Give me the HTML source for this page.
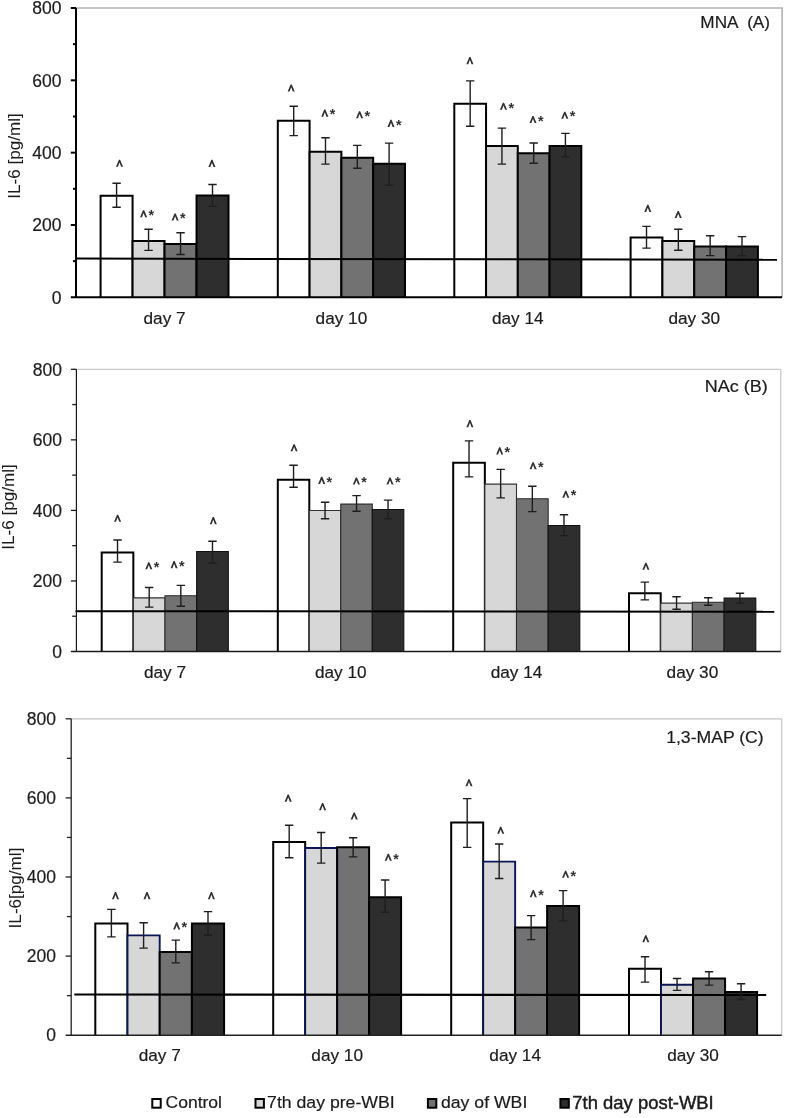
<!DOCTYPE html>
<html><head><meta charset="utf-8"><style>
html,body{margin:0;padding:0;background:#fff;}
body{width:786px;height:1118px;overflow:hidden;}
svg{display:block;font-family:"Liberation Sans", sans-serif;will-change:transform;}
</style></head><body>
<svg width="786" height="1118" viewBox="0 0 786 1118">
<rect width="786" height="1118" fill="#fff"/>
<path d="M76 8 H782.1 V297.3" fill="none" stroke="#b3b3b3" stroke-width="1.6"/>
<path d="M100.6 297.3 V195.7 H132.57 V297.3" fill="#ffffff" stroke="#000" stroke-width="2.0"/>
<path d="M132.57 297.3 V240.9 H164.55 V297.3" fill="#d7d7d7" stroke="#000" stroke-width="2.0"/>
<path d="M164.55 297.3 V243.9 H196.53 V297.3" fill="#727272" stroke="#000" stroke-width="2.0"/>
<path d="M196.53 297.3 V195.6 H228.5 V297.3" fill="#2e2e2e" stroke="#000" stroke-width="2.0"/>
<path d="M277.8 297.3 V120.7 H309.6 V297.3" fill="#ffffff" stroke="#000" stroke-width="2.0"/>
<path d="M309.6 297.3 V151.7 H341.4 V297.3" fill="#d7d7d7" stroke="#000" stroke-width="2.0"/>
<path d="M341.4 297.3 V157.7 H373.2 V297.3" fill="#727272" stroke="#000" stroke-width="2.0"/>
<path d="M373.2 297.3 V163.8 H405 V297.3" fill="#2e2e2e" stroke="#000" stroke-width="2.0"/>
<path d="M454.3 297.3 V103.8 H486.05 V297.3" fill="#ffffff" stroke="#000" stroke-width="2.0"/>
<path d="M486.05 297.3 V146.1 H517.8 V297.3" fill="#d7d7d7" stroke="#000" stroke-width="2.0"/>
<path d="M517.8 297.3 V153.2 H549.55 V297.3" fill="#727272" stroke="#000" stroke-width="2.0"/>
<path d="M549.55 297.3 V146.1 H581.3 V297.3" fill="#2e2e2e" stroke="#000" stroke-width="2.0"/>
<path d="M630.6 297.3 V237.6 H662.42 V297.3" fill="#ffffff" stroke="#000" stroke-width="2.0"/>
<path d="M662.42 297.3 V241.1 H694.25 V297.3" fill="#d7d7d7" stroke="#000" stroke-width="2.0"/>
<path d="M694.25 297.3 V246.5 H726.08 V297.3" fill="#727272" stroke="#000" stroke-width="2.0"/>
<path d="M726.08 297.3 V246.5 H757.9 V297.3" fill="#2e2e2e" stroke="#000" stroke-width="2.0"/>
<line x1="76" y1="258.6" x2="777" y2="259.7" stroke="#000" stroke-width="2.0"/>
<path d="M116.59 183.2 V207.3 M112.39 183.2 H120.79 M112.39 207.3 H120.79" stroke="#1e1e1e" stroke-width="1.4" fill="none"/>
<polygon points="118.9,159.65 120.1,159.65 123.05,166.75 121.15,166.75 119.5,162.45 117.85,166.75 115.95,166.75" fill="#303030"/>
<path d="M148.56 229.3 V250.4 M144.36 229.3 H152.76 M144.36 250.4 H152.76" stroke="#1e1e1e" stroke-width="1.4" fill="none"/>
<polygon points="143,210.25 144.2,210.25 147.15,217.35 145.25,217.35 143.6,213.05 141.95,217.35 140.05,217.35" fill="#303030"/>
<text x="151.3" y="220.07" font-size="14.3" font-weight="bold" text-anchor="middle" fill="#303030">*</text>
<path d="M180.54 232.7 V254.5 M176.34 232.7 H184.74 M176.34 254.5 H184.74" stroke="#1e1e1e" stroke-width="1.4" fill="none"/>
<polygon points="174.5,213.45 175.7,213.45 178.65,220.55 176.75,220.55 175.1,216.25 173.45,220.55 171.55,220.55" fill="#303030"/>
<text x="182.8" y="223.27" font-size="14.3" font-weight="bold" text-anchor="middle" fill="#303030">*</text>
<path d="M212.51 184.5 V206.4 M208.31 184.5 H216.71 M208.31 206.4 H216.71" stroke="#1e1e1e" stroke-width="1.4" fill="none"/>
<polygon points="211.3,159.85 212.5,159.85 215.45,166.95 213.55,166.95 211.9,162.65 210.25,166.95 208.35,166.95" fill="#303030"/>
<path d="M293.7 106.2 V135.6 M289.5 106.2 H297.9 M289.5 135.6 H297.9" stroke="#1e1e1e" stroke-width="1.4" fill="none"/>
<polygon points="290.6,84.45 291.8,84.45 294.75,91.55 292.85,91.55 291.2,87.25 289.55,91.55 287.65,91.55" fill="#303030"/>
<path d="M325.5 137.8 V164.1 M321.3 137.8 H329.7 M321.3 164.1 H329.7" stroke="#1e1e1e" stroke-width="1.4" fill="none"/>
<polygon points="324.2,109.55 325.4,109.55 328.35,116.65 326.45,116.65 324.8,112.35 323.15,116.65 321.25,116.65" fill="#303030"/>
<text x="332.5" y="119.37" font-size="14.3" font-weight="bold" text-anchor="middle" fill="#303030">*</text>
<path d="M357.3 145.4 V168.2 M353.1 145.4 H361.5 M353.1 168.2 H361.5" stroke="#1e1e1e" stroke-width="1.4" fill="none"/>
<polygon points="359,111.25 360.2,111.25 363.15,118.35 361.25,118.35 359.6,114.05 357.95,118.35 356.05,118.35" fill="#303030"/>
<text x="367.3" y="121.07" font-size="14.3" font-weight="bold" text-anchor="middle" fill="#303030">*</text>
<path d="M389.1 143.1 V185.1 M384.9 143.1 H393.3 M384.9 185.1 H393.3" stroke="#1e1e1e" stroke-width="1.4" fill="none"/>
<polygon points="390.4,119.85 391.6,119.85 394.55,126.95 392.65,126.95 391,122.65 389.35,126.95 387.45,126.95" fill="#303030"/>
<text x="398.7" y="129.67" font-size="14.3" font-weight="bold" text-anchor="middle" fill="#303030">*</text>
<path d="M470.18 80.9 V126.3 M465.98 80.9 H474.38 M465.98 126.3 H474.38" stroke="#1e1e1e" stroke-width="1.4" fill="none"/>
<polygon points="469.3,57.05 470.5,57.05 473.45,64.15 471.55,64.15 469.9,59.85 468.25,64.15 466.35,64.15" fill="#303030"/>
<path d="M501.92 128.1 V164.1 M497.72 128.1 H506.12 M497.72 164.1 H506.12" stroke="#1e1e1e" stroke-width="1.4" fill="none"/>
<polygon points="502.9,102.75 504.1,102.75 507.05,109.85 505.15,109.85 503.5,105.55 501.85,109.85 499.95,109.85" fill="#303030"/>
<text x="511.2" y="112.57" font-size="14.3" font-weight="bold" text-anchor="middle" fill="#303030">*</text>
<path d="M533.67 143 V163.2 M529.47 143 H537.88 M529.47 163.2 H537.88" stroke="#1e1e1e" stroke-width="1.4" fill="none"/>
<polygon points="532.4,115.95 533.6,115.95 536.55,123.05 534.65,123.05 533,118.75 531.35,123.05 529.45,123.05" fill="#303030"/>
<text x="540.7" y="125.77" font-size="14.3" font-weight="bold" text-anchor="middle" fill="#303030">*</text>
<path d="M565.42 133.4 V156.9 M561.22 133.4 H569.62 M561.22 156.9 H569.62" stroke="#1e1e1e" stroke-width="1.4" fill="none"/>
<polygon points="564.2,111.65 565.4,111.65 568.35,118.75 566.45,118.75 564.8,114.45 563.15,118.75 561.25,118.75" fill="#303030"/>
<text x="572.5" y="121.47" font-size="14.3" font-weight="bold" text-anchor="middle" fill="#303030">*</text>
<path d="M646.51 226.4 V248.1 M642.31 226.4 H650.71 M642.31 248.1 H650.71" stroke="#1e1e1e" stroke-width="1.4" fill="none"/>
<polygon points="647.2,204.85 648.4,204.85 651.35,211.95 649.45,211.95 647.8,207.65 646.15,211.95 644.25,211.95" fill="#303030"/>
<path d="M678.34 229.3 V250.3 M674.14 229.3 H682.54 M674.14 250.3 H682.54" stroke="#1e1e1e" stroke-width="1.4" fill="none"/>
<polygon points="677.6,210.95 678.8,210.95 681.75,218.05 679.85,218.05 678.2,213.75 676.55,218.05 674.65,218.05" fill="#303030"/>
<path d="M710.16 235.7 V255.6 M705.96 235.7 H714.36 M705.96 255.6 H714.36" stroke="#1e1e1e" stroke-width="1.4" fill="none"/>
<path d="M741.99 236.6 V255.6 M737.79 236.6 H746.19 M737.79 255.6 H746.19" stroke="#1e1e1e" stroke-width="1.4" fill="none"/>
<line x1="76" y1="8" x2="76" y2="297.3" stroke="#000" stroke-width="2.0"/>
<line x1="70.8" y1="297.3" x2="782" y2="297.3" stroke="#000" stroke-width="2.0"/>
<line x1="70.8" y1="8" x2="76" y2="8" stroke="#000" stroke-width="2.0"/>
<line x1="73" y1="44.16" x2="76" y2="44.16" stroke="#000" stroke-width="2.0"/>
<line x1="70.8" y1="80.33" x2="76" y2="80.33" stroke="#000" stroke-width="2.0"/>
<line x1="73" y1="116.49" x2="76" y2="116.49" stroke="#000" stroke-width="2.0"/>
<line x1="70.8" y1="152.65" x2="76" y2="152.65" stroke="#000" stroke-width="2.0"/>
<line x1="73" y1="188.81" x2="76" y2="188.81" stroke="#000" stroke-width="2.0"/>
<line x1="70.8" y1="224.98" x2="76" y2="224.98" stroke="#000" stroke-width="2.0"/>
<line x1="73" y1="261.14" x2="76" y2="261.14" stroke="#000" stroke-width="2.0"/>
<text x="61.5" y="14.2" font-size="17.5" text-anchor="end" fill="#1c1c1c" stroke="#1c1c1c" stroke-width="0.2" >800</text>
<text x="61.5" y="86.53" font-size="17.5" text-anchor="end" fill="#1c1c1c" stroke="#1c1c1c" stroke-width="0.2" >600</text>
<text x="61.5" y="158.85" font-size="17.5" text-anchor="end" fill="#1c1c1c" stroke="#1c1c1c" stroke-width="0.2" >400</text>
<text x="61.5" y="231.18" font-size="17.5" text-anchor="end" fill="#1c1c1c" stroke="#1c1c1c" stroke-width="0.2" >200</text>
<text x="61.5" y="303.5" font-size="17.5" text-anchor="end" fill="#1c1c1c" stroke="#1c1c1c" stroke-width="0.2" >0</text>
<text transform="translate(20,156) rotate(-90)" font-size="17.1" text-anchor="middle" fill="#1c1c1c" stroke="#1c1c1c" stroke-width="0.05">IL-6 [pg/ml]</text>
<text x="700.39" y="28.3" font-size="17" textLength="69.67" lengthAdjust="spacingAndGlyphs" fill="#1c1c1c" stroke="#1c1c1c" stroke-width="0.2" style="white-space:pre">MNA  (A)</text>
<text x="164.55" y="323.6" font-size="17.2" text-anchor="middle" fill="#1c1c1c" stroke="#1c1c1c" stroke-width="0.2" >day 7</text>
<text x="341.4" y="323.6" font-size="17.2" text-anchor="middle" fill="#1c1c1c" stroke="#1c1c1c" stroke-width="0.2" >day 10</text>
<text x="517.8" y="323.6" font-size="17.2" text-anchor="middle" fill="#1c1c1c" stroke="#1c1c1c" stroke-width="0.2" >day 14</text>
<text x="694.25" y="323.6" font-size="17.2" text-anchor="middle" fill="#1c1c1c" stroke="#1c1c1c" stroke-width="0.2" >day 30</text>
<path d="M76.4 369.3 H780.8 V651.5" fill="none" stroke="#bdbdbd" stroke-width="1.0"/>
<path d="M101.7 651.5 V552.4 H133.35 V651.5" fill="#ffffff" stroke="#000" stroke-width="2.0"/>
<path d="M133.35 651.5 V597.85 H165 V651.5" fill="#d7d7d7" stroke="#333" stroke-width="1.1"/>
<path d="M165 651.5 V595.75 H196.65 V651.5" fill="#727272" stroke="#2a2a2a" stroke-width="1.1"/>
<path d="M196.65 651.5 V551.55 H228.3 V651.5" fill="#2e2e2e" stroke="#111" stroke-width="1.1"/>
<path d="M277.8 651.5 V479.7 H309.3 V651.5" fill="#ffffff" stroke="#000" stroke-width="2.0"/>
<path d="M309.3 651.5 V510.45 H340.8 V651.5" fill="#d7d7d7" stroke="#333" stroke-width="1.1"/>
<path d="M340.8 651.5 V504.15 H372.3 V651.5" fill="#727272" stroke="#2a2a2a" stroke-width="1.1"/>
<path d="M372.3 651.5 V509.55 H403.8 V651.5" fill="#2e2e2e" stroke="#111" stroke-width="1.1"/>
<path d="M453.2 651.5 V462.7 H484.85 V651.5" fill="#ffffff" stroke="#000" stroke-width="2.0"/>
<path d="M484.85 651.5 V484.15 H516.5 V651.5" fill="#d7d7d7" stroke="#333" stroke-width="1.1"/>
<path d="M516.5 651.5 V498.75 H548.15 V651.5" fill="#727272" stroke="#2a2a2a" stroke-width="1.1"/>
<path d="M548.15 651.5 V525.55 H579.8 V651.5" fill="#2e2e2e" stroke="#111" stroke-width="1.1"/>
<path d="M629 651.5 V593.3 H660.7 V651.5" fill="#ffffff" stroke="#000" stroke-width="2.0"/>
<path d="M660.7 651.5 V603.15 H692.4 V651.5" fill="#d7d7d7" stroke="#333" stroke-width="1.1"/>
<path d="M692.4 651.5 V602.25 H724.1 V651.5" fill="#727272" stroke="#2a2a2a" stroke-width="1.1"/>
<path d="M724.1 651.5 V597.95 H755.8 V651.5" fill="#2e2e2e" stroke="#111" stroke-width="1.1"/>
<line x1="75.5" y1="611.2" x2="774.3" y2="611.8" stroke="#000" stroke-width="2.0"/>
<path d="M117.53 540 V562.1 M113.33 540 H121.73 M113.33 562.1 H121.73" stroke="#1e1e1e" stroke-width="1.4" fill="none"/>
<polygon points="117,514.75 118.2,514.75 121.15,521.85 119.25,521.85 117.6,517.55 115.95,521.85 114.05,521.85" fill="#303030"/>
<path d="M149.18 587.5 V607.1 M144.98 587.5 H153.38 M144.98 607.1 H153.38" stroke="#1e1e1e" stroke-width="1.4" fill="none"/>
<polygon points="148.2,562.25 149.4,562.25 152.35,569.35 150.45,569.35 148.8,565.05 147.15,569.35 145.25,569.35" fill="#303030"/>
<text x="156.5" y="572.07" font-size="14.3" font-weight="bold" text-anchor="middle" fill="#303030">*</text>
<path d="M180.83 585.4 V606.2 M176.63 585.4 H185.03 M176.63 606.2 H185.03" stroke="#1e1e1e" stroke-width="1.4" fill="none"/>
<polygon points="173.5,561.05 174.7,561.05 177.65,568.15 175.75,568.15 174.1,563.85 172.45,568.15 170.55,568.15" fill="#303030"/>
<text x="181.8" y="570.87" font-size="14.3" font-weight="bold" text-anchor="middle" fill="#303030">*</text>
<path d="M212.48 541.2 V563 M208.28 541.2 H216.68 M208.28 563 H216.68" stroke="#1e1e1e" stroke-width="1.4" fill="none"/>
<polygon points="212.7,517.05 213.9,517.05 216.85,524.15 214.95,524.15 213.3,519.85 211.65,524.15 209.75,524.15" fill="#303030"/>
<path d="M293.55 465.3 V487.3 M289.35 465.3 H297.75 M289.35 487.3 H297.75" stroke="#1e1e1e" stroke-width="1.4" fill="none"/>
<polygon points="293.5,444.25 294.7,444.25 297.65,451.35 295.75,451.35 294.1,447.05 292.45,451.35 290.55,451.35" fill="#303030"/>
<path d="M325.05 502.2 V518.8 M320.85 502.2 H329.25 M320.85 518.8 H329.25" stroke="#1e1e1e" stroke-width="1.4" fill="none"/>
<polygon points="321.1,476.85 322.3,476.85 325.25,483.95 323.35,483.95 321.7,479.65 320.05,483.95 318.15,483.95" fill="#303030"/>
<text x="329.4" y="486.67" font-size="14.3" font-weight="bold" text-anchor="middle" fill="#303030">*</text>
<path d="M356.55 495.6 V511.3 M352.35 495.6 H360.75 M352.35 511.3 H360.75" stroke="#1e1e1e" stroke-width="1.4" fill="none"/>
<polygon points="355.8,477.45 357,477.45 359.95,484.55 358.05,484.55 356.4,480.25 354.75,484.55 352.85,484.55" fill="#303030"/>
<text x="364.1" y="487.27" font-size="14.3" font-weight="bold" text-anchor="middle" fill="#303030">*</text>
<path d="M388.05 500.1 V518.8 M383.85 500.1 H392.25 M383.85 518.8 H392.25" stroke="#1e1e1e" stroke-width="1.4" fill="none"/>
<polygon points="389.4,477.45 390.6,477.45 393.55,484.55 391.65,484.55 390,480.25 388.35,484.55 386.45,484.55" fill="#303030"/>
<text x="397.7" y="487.27" font-size="14.3" font-weight="bold" text-anchor="middle" fill="#303030">*</text>
<path d="M469.02 440.9 V476.9 M464.82 440.9 H473.22 M464.82 476.9 H473.22" stroke="#1e1e1e" stroke-width="1.4" fill="none"/>
<polygon points="469.3,420.05 470.5,420.05 473.45,427.15 471.55,427.15 469.9,422.85 468.25,427.15 466.35,427.15" fill="#303030"/>
<path d="M500.67 469.4 V497.9 M496.47 469.4 H504.87 M496.47 497.9 H504.87" stroke="#1e1e1e" stroke-width="1.4" fill="none"/>
<polygon points="499.1,447.35 500.3,447.35 503.25,454.45 501.35,454.45 499.7,450.15 498.05,454.45 496.15,454.45" fill="#303030"/>
<text x="507.4" y="457.17" font-size="14.3" font-weight="bold" text-anchor="middle" fill="#303030">*</text>
<path d="M532.33 486.3 V511.6 M528.12 486.3 H536.53 M528.12 511.6 H536.53" stroke="#1e1e1e" stroke-width="1.4" fill="none"/>
<polygon points="532.5,462.25 533.7,462.25 536.65,469.35 534.75,469.35 533.1,465.05 531.45,469.35 529.55,469.35" fill="#303030"/>
<text x="540.8" y="472.07" font-size="14.3" font-weight="bold" text-anchor="middle" fill="#303030">*</text>
<path d="M563.97 514.8 V535.6 M559.77 514.8 H568.17 M559.77 535.6 H568.17" stroke="#1e1e1e" stroke-width="1.4" fill="none"/>
<polygon points="565.2,490.65 566.4,490.65 569.35,497.75 567.45,497.75 565.8,493.45 564.15,497.75 562.25,497.75" fill="#303030"/>
<text x="573.5" y="500.47" font-size="14.3" font-weight="bold" text-anchor="middle" fill="#303030">*</text>
<path d="M644.85 582.1 V599.9 M640.65 582.1 H649.05 M640.65 599.9 H649.05" stroke="#1e1e1e" stroke-width="1.4" fill="none"/>
<polygon points="645.3,562.75 646.5,562.75 649.45,569.85 647.55,569.85 645.9,565.55 644.25,569.85 642.35,569.85" fill="#303030"/>
<path d="M676.55 596.7 V609.2 M672.35 596.7 H680.75 M672.35 609.2 H680.75" stroke="#1e1e1e" stroke-width="1.4" fill="none"/>
<path d="M708.25 597.8 V605.3 M704.05 597.8 H712.45 M704.05 605.3 H712.45" stroke="#1e1e1e" stroke-width="1.4" fill="none"/>
<path d="M739.95 593.3 V603.1 M735.75 593.3 H744.15 M735.75 603.1 H744.15" stroke="#1e1e1e" stroke-width="1.4" fill="none"/>
<line x1="76.4" y1="369.3" x2="76.4" y2="651.5" stroke="#1a1a1a" stroke-width="1.2"/>
<line x1="70.9" y1="651.5" x2="780.8" y2="651.5" stroke="#1a1a1a" stroke-width="1.3"/>
<line x1="70.9" y1="369.3" x2="76.4" y2="369.3" stroke="#1a1a1a" stroke-width="1.3"/>
<line x1="72.2" y1="404.57" x2="76.4" y2="404.57" stroke="#1a1a1a" stroke-width="1.3"/>
<line x1="70.9" y1="439.85" x2="76.4" y2="439.85" stroke="#1a1a1a" stroke-width="1.3"/>
<line x1="72.2" y1="475.12" x2="76.4" y2="475.12" stroke="#1a1a1a" stroke-width="1.3"/>
<line x1="70.9" y1="510.4" x2="76.4" y2="510.4" stroke="#1a1a1a" stroke-width="1.3"/>
<line x1="72.2" y1="545.67" x2="76.4" y2="545.67" stroke="#1a1a1a" stroke-width="1.3"/>
<line x1="70.9" y1="580.95" x2="76.4" y2="580.95" stroke="#1a1a1a" stroke-width="1.3"/>
<line x1="72.2" y1="616.23" x2="76.4" y2="616.23" stroke="#1a1a1a" stroke-width="1.3"/>
<text x="62" y="375.5" font-size="17.5" text-anchor="end" fill="#1c1c1c" stroke="#1c1c1c" stroke-width="0.2" >800</text>
<text x="62" y="446.05" font-size="17.5" text-anchor="end" fill="#1c1c1c" stroke="#1c1c1c" stroke-width="0.2" >600</text>
<text x="62" y="516.6" font-size="17.5" text-anchor="end" fill="#1c1c1c" stroke="#1c1c1c" stroke-width="0.2" >400</text>
<text x="62" y="587.15" font-size="17.5" text-anchor="end" fill="#1c1c1c" stroke="#1c1c1c" stroke-width="0.2" >200</text>
<text x="62" y="657.7" font-size="17.5" text-anchor="end" fill="#1c1c1c" stroke="#1c1c1c" stroke-width="0.2" >0</text>
<text transform="translate(14,507) rotate(-90)" font-size="17.1" text-anchor="middle" fill="#1c1c1c" stroke="#1c1c1c" stroke-width="0.05">IL-6 [pg/ml]</text>
<text x="704.72" y="391.6" font-size="17" textLength="62.99" lengthAdjust="spacingAndGlyphs" fill="#1c1c1c" stroke="#1c1c1c" stroke-width="0.2" style="white-space:pre">NAc (B)</text>
<text x="165" y="678.3" font-size="17.2" text-anchor="middle" fill="#1c1c1c" stroke="#1c1c1c" stroke-width="0.2" >day 7</text>
<text x="340.8" y="678.3" font-size="17.2" text-anchor="middle" fill="#1c1c1c" stroke="#1c1c1c" stroke-width="0.2" >day 10</text>
<text x="516.5" y="678.3" font-size="17.2" text-anchor="middle" fill="#1c1c1c" stroke="#1c1c1c" stroke-width="0.2" >day 14</text>
<text x="692.4" y="678.3" font-size="17.2" text-anchor="middle" fill="#1c1c1c" stroke="#1c1c1c" stroke-width="0.2" >day 30</text>
<path d="M71.2 718.8 H781.7 V1035.2" fill="none" stroke="#c4c4c4" stroke-width="1.2"/>
<path d="M95.3 1035.2 V923.6 H127.5 V1035.2" fill="#ffffff" stroke="#000" stroke-width="2.0"/>
<path d="M127.5 1035.2 V935.35 H159.7 V1035.2" fill="#d7d7d7" stroke="#0b1655" stroke-width="1.9"/>
<path d="M159.7 1035.2 V952.1 H191.9 V1035.2" fill="#727272" stroke="#000" stroke-width="2.0"/>
<path d="M191.9 1035.2 V923.6 H224.1 V1035.2" fill="#2e2e2e" stroke="#000" stroke-width="2.0"/>
<path d="M273.2 1035.2 V842 H305.18 V1035.2" fill="#ffffff" stroke="#000" stroke-width="2.0"/>
<path d="M305.18 1035.2 V848.05 H337.15 V1035.2" fill="#d7d7d7" stroke="#0b1655" stroke-width="1.9"/>
<path d="M337.15 1035.2 V847.2 H369.12 V1035.2" fill="#727272" stroke="#000" stroke-width="2.0"/>
<path d="M369.12 1035.2 V897.2 H401.1 V1035.2" fill="#2e2e2e" stroke="#000" stroke-width="2.0"/>
<path d="M451.2 1035.2 V822.5 H483.18 V1035.2" fill="#ffffff" stroke="#000" stroke-width="2.0"/>
<path d="M483.18 1035.2 V861.65 H515.15 V1035.2" fill="#d7d7d7" stroke="#0b1655" stroke-width="1.9"/>
<path d="M515.15 1035.2 V927.6 H547.12 V1035.2" fill="#727272" stroke="#000" stroke-width="2.0"/>
<path d="M547.12 1035.2 V905.9 H579.1 V1035.2" fill="#2e2e2e" stroke="#000" stroke-width="2.0"/>
<path d="M629 1035.2 V968.8 H661.02 V1035.2" fill="#ffffff" stroke="#000" stroke-width="2.0"/>
<path d="M661.02 1035.2 V984.75 H693.05 V1035.2" fill="#d7d7d7" stroke="#0b1655" stroke-width="1.9"/>
<path d="M693.05 1035.2 V978.6 H725.08 V1035.2" fill="#727272" stroke="#000" stroke-width="2.0"/>
<path d="M725.08 1035.2 V992 H757.1 V1035.2" fill="#2e2e2e" stroke="#000" stroke-width="2.0"/>
<line x1="74.3" y1="994.5" x2="766.2" y2="995" stroke="#000" stroke-width="2.2"/>
<path d="M111.4 909.4 V936.9 M107.2 909.4 H115.6 M107.2 936.9 H115.6" stroke="#1e1e1e" stroke-width="1.4" fill="none"/>
<polygon points="114.9,892.05 116.1,892.05 119.05,899.15 117.15,899.15 115.5,894.85 113.85,899.15 111.95,899.15" fill="#303030"/>
<path d="M143.6 922.8 V948.1 M139.4 922.8 H147.8 M139.4 948.1 H147.8" stroke="#1e1e1e" stroke-width="1.4" fill="none"/>
<polygon points="146.4,892.05 147.6,892.05 150.55,899.15 148.65,899.15 147,894.85 145.35,899.15 143.45,899.15" fill="#303030"/>
<path d="M175.8 940.1 V962.9 M171.6 940.1 H180 M171.6 962.9 H180" stroke="#1e1e1e" stroke-width="1.4" fill="none"/>
<polygon points="176.1,922.35 177.3,922.35 180.25,929.45 178.35,929.45 176.7,925.15 175.05,929.45 173.15,929.45" fill="#303030"/>
<text x="184.4" y="932.17" font-size="14.3" font-weight="bold" text-anchor="middle" fill="#303030">*</text>
<path d="M208 911.6 V935.3 M203.8 911.6 H212.2 M203.8 935.3 H212.2" stroke="#1e1e1e" stroke-width="1.4" fill="none"/>
<polygon points="210.8,892.05 212,892.05 214.95,899.15 213.05,899.15 211.4,894.85 209.75,899.15 207.85,899.15" fill="#303030"/>
<path d="M289.19 825.3 V857.8 M284.99 825.3 H293.39 M284.99 857.8 H293.39" stroke="#1e1e1e" stroke-width="1.4" fill="none"/>
<polygon points="287.6,794.55 288.8,794.55 291.75,801.65 289.85,801.65 288.2,797.35 286.55,801.65 284.65,801.65" fill="#303030"/>
<path d="M321.16 832.5 V863.1 M316.96 832.5 H325.36 M316.96 863.1 H325.36" stroke="#1e1e1e" stroke-width="1.4" fill="none"/>
<polygon points="322,803.05 323.2,803.05 326.15,810.15 324.25,810.15 322.6,805.85 320.95,810.15 319.05,810.15" fill="#303030"/>
<path d="M353.14 837.8 V856.9 M348.94 837.8 H357.34 M348.94 856.9 H357.34" stroke="#1e1e1e" stroke-width="1.4" fill="none"/>
<polygon points="353.6,812.45 354.8,812.45 357.75,819.55 355.85,819.55 354.2,815.25 352.55,819.55 350.65,819.55" fill="#303030"/>
<path d="M385.11 880 V912.3 M380.91 880 H389.31 M380.91 912.3 H389.31" stroke="#1e1e1e" stroke-width="1.4" fill="none"/>
<polygon points="387.7,853.75 388.9,853.75 391.85,860.85 389.95,860.85 388.3,856.55 386.65,860.85 384.75,860.85" fill="#303030"/>
<text x="396" y="863.57" font-size="14.3" font-weight="bold" text-anchor="middle" fill="#303030">*</text>
<path d="M467.19 798.6 V847.4 M462.99 798.6 H471.39 M462.99 847.4 H471.39" stroke="#1e1e1e" stroke-width="1.4" fill="none"/>
<polygon points="468.4,779.25 469.6,779.25 472.55,786.35 470.65,786.35 469,782.05 467.35,786.35 465.45,786.35" fill="#303030"/>
<path d="M499.16 844 V878.5 M494.96 844 H503.36 M494.96 878.5 H503.36" stroke="#1e1e1e" stroke-width="1.4" fill="none"/>
<polygon points="500.1,826.75 501.3,826.75 504.25,833.85 502.35,833.85 500.7,829.55 499.05,833.85 497.15,833.85" fill="#303030"/>
<path d="M531.14 915.6 V939.6 M526.94 915.6 H535.34 M526.94 939.6 H535.34" stroke="#1e1e1e" stroke-width="1.4" fill="none"/>
<polygon points="532.7,890.05 533.9,890.05 536.85,897.15 534.95,897.15 533.3,892.85 531.65,897.15 529.75,897.15" fill="#303030"/>
<text x="541" y="899.87" font-size="14.3" font-weight="bold" text-anchor="middle" fill="#303030">*</text>
<path d="M563.11 890.6 V920.9 M558.91 890.6 H567.31 M558.91 920.9 H567.31" stroke="#1e1e1e" stroke-width="1.4" fill="none"/>
<polygon points="565,870.75 566.2,870.75 569.15,877.85 567.25,877.85 565.6,873.55 563.95,877.85 562.05,877.85" fill="#303030"/>
<text x="573.3" y="880.57" font-size="14.3" font-weight="bold" text-anchor="middle" fill="#303030">*</text>
<path d="M645.01 956.8 V982.1 M640.81 956.8 H649.21 M640.81 982.1 H649.21" stroke="#1e1e1e" stroke-width="1.4" fill="none"/>
<polygon points="645.2,935.15 646.4,935.15 649.35,942.25 647.45,942.25 645.8,937.95 644.15,942.25 642.25,942.25" fill="#303030"/>
<path d="M677.04 978.5 V990.4 M672.84 978.5 H681.24 M672.84 990.4 H681.24" stroke="#1e1e1e" stroke-width="1.4" fill="none"/>
<path d="M709.06 971.7 V985.1 M704.86 971.7 H713.26 M704.86 985.1 H713.26" stroke="#1e1e1e" stroke-width="1.4" fill="none"/>
<path d="M741.09 983.8 V999.5 M736.89 983.8 H745.29 M736.89 999.5 H745.29" stroke="#1e1e1e" stroke-width="1.4" fill="none"/>
<line x1="71.2" y1="718.8" x2="71.2" y2="1035.2" stroke="#222" stroke-width="1.3"/>
<line x1="65.6" y1="1035.2" x2="781.7" y2="1035.2" stroke="#222" stroke-width="1.5"/>
<line x1="65.6" y1="718.8" x2="71.2" y2="718.8" stroke="#222" stroke-width="1.3"/>
<line x1="66.9" y1="758.35" x2="71.2" y2="758.35" stroke="#222" stroke-width="1.3"/>
<line x1="65.6" y1="797.9" x2="71.2" y2="797.9" stroke="#222" stroke-width="1.3"/>
<line x1="66.9" y1="837.45" x2="71.2" y2="837.45" stroke="#222" stroke-width="1.3"/>
<line x1="65.6" y1="877" x2="71.2" y2="877" stroke="#222" stroke-width="1.3"/>
<line x1="66.9" y1="916.55" x2="71.2" y2="916.55" stroke="#222" stroke-width="1.3"/>
<line x1="65.6" y1="956.1" x2="71.2" y2="956.1" stroke="#222" stroke-width="1.3"/>
<line x1="66.9" y1="995.65" x2="71.2" y2="995.65" stroke="#222" stroke-width="1.3"/>
<text x="56" y="725" font-size="17.5" text-anchor="end" fill="#1c1c1c" stroke="#1c1c1c" stroke-width="0.2" >800</text>
<text x="56" y="804.1" font-size="17.5" text-anchor="end" fill="#1c1c1c" stroke="#1c1c1c" stroke-width="0.2" >600</text>
<text x="56" y="883.2" font-size="17.5" text-anchor="end" fill="#1c1c1c" stroke="#1c1c1c" stroke-width="0.2" >400</text>
<text x="56" y="962.3" font-size="17.5" text-anchor="end" fill="#1c1c1c" stroke="#1c1c1c" stroke-width="0.2" >200</text>
<text x="56" y="1041.4" font-size="17.5" text-anchor="end" fill="#1c1c1c" stroke="#1c1c1c" stroke-width="0.2" >0</text>
<text transform="translate(20.7,888) rotate(-90)" font-size="17.1" text-anchor="middle" fill="#1c1c1c" stroke="#1c1c1c" stroke-width="0.05">IL-6[pg/ml]</text>
<text x="666.16" y="742.5" font-size="17" textLength="97.53" lengthAdjust="spacingAndGlyphs" fill="#1c1c1c" stroke="#1c1c1c" stroke-width="0.2" style="white-space:pre">1,3-MAP (C)</text>
<text x="159.7" y="1061" font-size="17.2" text-anchor="middle" fill="#1c1c1c" stroke="#1c1c1c" stroke-width="0.2" >day 7</text>
<text x="337.15" y="1061" font-size="17.2" text-anchor="middle" fill="#1c1c1c" stroke="#1c1c1c" stroke-width="0.2" >day 10</text>
<text x="515.15" y="1061" font-size="17.2" text-anchor="middle" fill="#1c1c1c" stroke="#1c1c1c" stroke-width="0.2" >day 14</text>
<text x="693.05" y="1061" font-size="17.2" text-anchor="middle" fill="#1c1c1c" stroke="#1c1c1c" stroke-width="0.2" >day 30</text>
<rect x="152.3" y="1099" width="8.4" height="8.7" fill="#ffffff" stroke="#000" stroke-width="2"/>
<text x="165.51" y="1108.2" font-size="17.2" textLength="56.48" lengthAdjust="spacingAndGlyphs" fill="#1c1c1c" stroke="#1c1c1c" stroke-width="0.2" >Control</text>
<rect x="255.5" y="1099" width="8.4" height="8.7" fill="#d7d7d7" stroke="#000" stroke-width="2"/>
<text x="267.1" y="1108.2" font-size="17.4" textLength="127.53" lengthAdjust="spacingAndGlyphs" fill="#1c1c1c" stroke="#1c1c1c" stroke-width="0.2" >7th day pre-WBI</text>
<rect x="427.9" y="1099" width="8.4" height="8.7" fill="#727272" stroke="#000" stroke-width="2"/>
<text x="440.96" y="1108.2" font-size="17.4" textLength="86.36" lengthAdjust="spacingAndGlyphs" fill="#1c1c1c" stroke="#1c1c1c" stroke-width="0.2" >day of WBI</text>
<rect x="560.4" y="1099" width="8.4" height="8.7" fill="#2e2e2e" stroke="#000" stroke-width="2"/>
<text x="572.36" y="1109" font-size="18.0" textLength="141.33" lengthAdjust="spacingAndGlyphs" fill="#1c1c1c" stroke="#1c1c1c" stroke-width="0.45" >7th day post-WBI</text>
</svg>
</body></html>
